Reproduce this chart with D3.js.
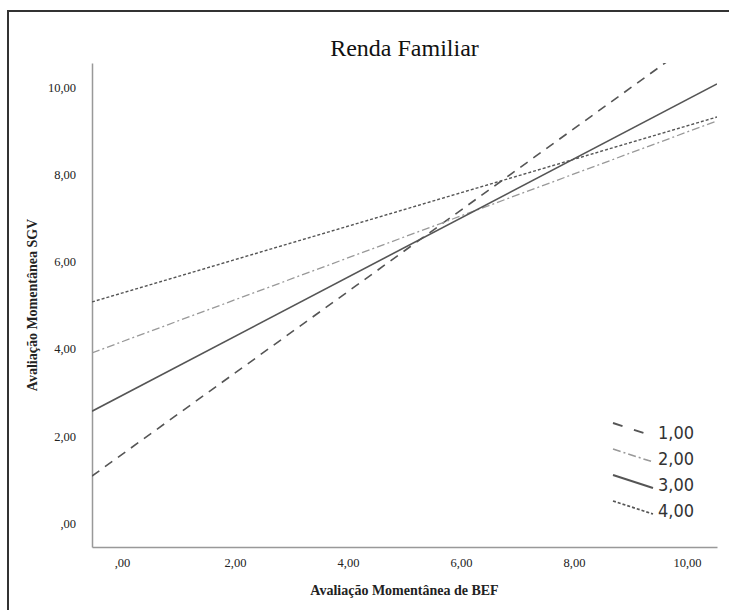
<!DOCTYPE html>
<html>
<head>
<meta charset="utf-8">
<script src="https://cdn.jsdelivr.net/npm/d3@7"></script>
<style>
  body { margin: 0; background: #fff; }
  svg { display: block; }
</style>
</head>
<body>
<div class="chart"></div>
<script>
// Data: each line is given by its value at the left and right edges of the axis
var edgeX = [-0.53, 10.53];
var seriesNames = ["1,00", "2,00", "3,00", "4,00"];
var seriesLeft = [1.08, 3.91, 2.57, 5.08];
var seriesRight = [11.43, 9.24, 10.09, 9.33];
var tickValues = [0, 2, 4, 6, 8, 10];

var svgWidth = 729;
var svgHeight = 610;

var margin = { top: 63, right: 12, bottom: 63, left: 92 };
var chartWidth = svgWidth - margin.left - margin.right;
var chartHeight = svgHeight - margin.top - margin.bottom;

var serif = "'Liberation Serif', 'Times New Roman', serif";

// line styles per series
var strokes = ["#555", "#999", "#555", "#555"];
var dashes = ["9,7", "8,3,2,3", null, "3,2"];
var widths = [1.6, 1.3, 1.6, 1.4];

var svg = d3.select(".chart")
  .append("svg")
  .attr("width", svgWidth)
  .attr("height", svgHeight);

// outer frame (runs off the bottom and right like the source)
svg.append("rect")
  .attr("x", 8)
  .attr("y", 11)
  .attr("width", 760)
  .attr("height", 640)
  .attr("fill", "none")
  .attr("stroke", "#333")
  .attr("stroke-width", 2);

var chartGroup = svg.append("g")
  .attr("transform", `translate(${margin.left}, ${margin.top})`);

var xScale = d3.scaleLinear()
  .domain([-0.53, 10.53])
  .range([0, chartWidth]);

var yScale = d3.scaleLinear()
  .domain([-0.55, 10.57])
  .range([chartHeight, 0]);

function fmt(d) {
  var s = d3.format(".2f")(d).replace(".", ",");
  return s.indexOf("0,") === 0 ? s.slice(1) : s;
}

var bottomAxis = d3.axisBottom(xScale)
  .tickValues(tickValues)
  .tickFormat(fmt)
  .tickSize(0)
  .tickPadding(11);

var leftAxis = d3.axisLeft(yScale)
  .tickValues(tickValues)
  .tickFormat(fmt)
  .tickSize(0)
  .tickPadding(16);

var xAxisG = chartGroup.append("g")
  .attr("transform", `translate(0, ${chartHeight})`)
  .call(bottomAxis);

var yAxisG = chartGroup.append("g")
  .call(leftAxis);

[xAxisG, yAxisG].forEach(function (g) {
  g.select(".domain").attr("stroke", "#999").attr("stroke-width", 1.5);
  g.selectAll("text")
    .attr("font-family", serif)
    .attr("font-size", "12.5px")
    .attr("fill", "#222");
});

// clip lines to the plot area
chartGroup.append("clipPath")
  .attr("id", "plot-clip")
  .append("rect")
  .attr("width", chartWidth)
  .attr("height", chartHeight);

var lineData = seriesNames.map(function (name, i) {
  return {
    name: name,
    points: [[edgeX[0], seriesLeft[i]], [edgeX[1], seriesRight[i]]],
    i: i
  };
});

var line = d3.line()
  .x(d => xScale(d[0]))
  .y(d => yScale(d[1]));

chartGroup.append("g")
  .attr("clip-path", "url(#plot-clip)")
  .selectAll(".fit")
  .data(lineData)
  .enter()
  .append("path")
  .attr("class", "fit")
  .attr("d", d => line(d.points))
  .attr("fill", "none")
  .attr("stroke", d => strokes[d.i])
  .attr("stroke-width", d => widths[d.i])
  .attr("stroke-dasharray", d => dashes[d.i]);

// legend, bottom right
var legend = svg.append("g")
  .attr("transform", "translate(613, 432)");

var rows = legend.selectAll(".row")
  .data(lineData)
  .enter()
  .append("g")
  .attr("class", "row")
  .attr("transform", (d, i) => `translate(0, ${i * 26})`);

rows.append("line")
  .attr("x1", 0)
  .attr("y1", -9)
  .attr("x2", 40)
  .attr("y2", 4)
  .attr("stroke", d => strokes[d.i])
  .attr("stroke-width", d => widths[d.i] + 0.3)
  .attr("stroke-dasharray", d => d.i === 0 ? "10,12" : dashes[d.i]);

rows.append("text")
  .attr("x", 45)
  .attr("y", 7)
  .attr("font-family", "'DejaVu Sans Condensed', 'DejaVu Sans', sans-serif")
  .attr("font-size", "18px")
  .attr("fill", "#333")
  .text(d => d.name);

// title and axis labels
svg.append("text")
  .attr("x", margin.left + chartWidth / 2)
  .attr("y", 56)
  .attr("text-anchor", "middle")
  .attr("font-family", serif)
  .attr("font-size", "24px")
  .attr("fill", "#111")
  .text("Renda Familiar");

svg.append("text")
  .attr("x", margin.left + chartWidth / 2)
  .attr("y", 595)
  .attr("text-anchor", "middle")
  .attr("font-family", serif)
  .attr("font-weight", "bold")
  .attr("font-size", "14px")
  .attr("fill", "#222")
  .text("Avaliação Momentânea de BEF");

svg.append("text")
  .attr("transform", `translate(37, ${margin.top + chartHeight / 2}) rotate(-90)`)
  .attr("text-anchor", "middle")
  .attr("font-family", serif)
  .attr("font-weight", "bold")
  .attr("font-size", "14px")
  .attr("fill", "#222")
  .text("Avaliação Momentânea SGV");
</script>
</body>
</html>
